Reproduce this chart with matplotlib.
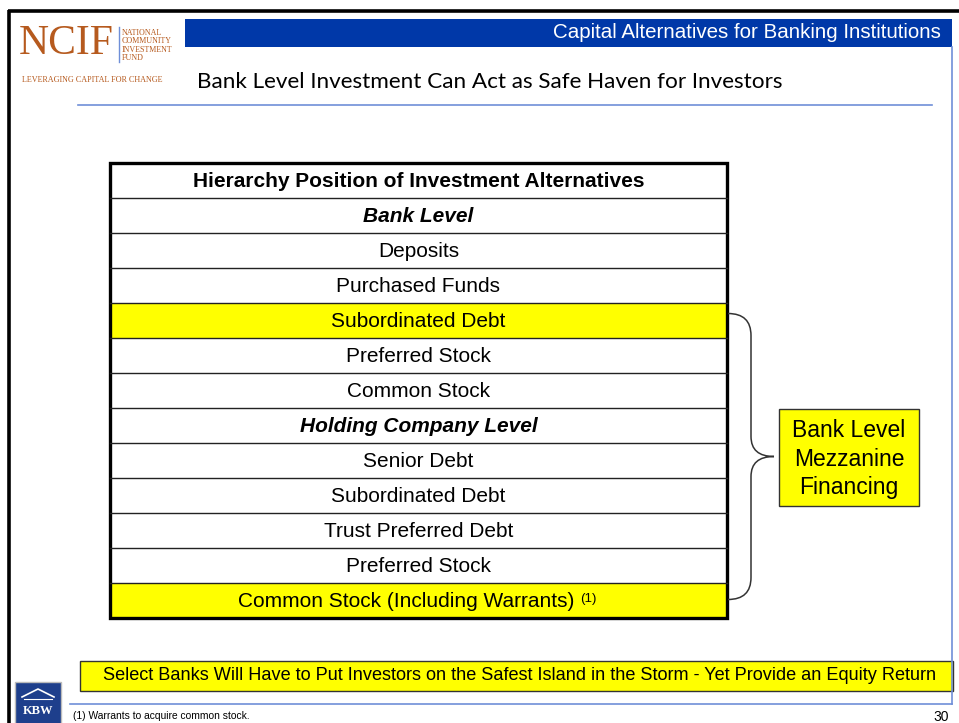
import matplotlib
matplotlib.use("Agg")
import matplotlib.pyplot as plt
from matplotlib.patches import Rectangle, PathPatch
from matplotlib.path import Path

# contenu de la diapositive
titre_bandeau = "Capital Alternatives for Banking Institutions"
sous_titre = "Bank Level Investment Can Act as Safe Haven for Investors"
entete = "Hierarchy Position of Investment Alternatives"
lignes = ["Bank Level", "Deposits", "Purchased Funds", "Subordinated Debt",
          "Preferred Stock", "Common Stock", "Holding Company Level",
          "Senior Debt", "Subordinated Debt", "Trust Preferred Debt",
          "Preferred Stock", "Common Stock (Including Warrants)"]
niveaux = [True, False, False, False, False, False, True,
           False, False, False, False, False]
surligne = [False, False, False, True, False, False, False,
            False, False, False, False, True]
note_ligne = ["", "", "", "", "", "", "", "", "", "", "", "(1)"]
encadre = "Bank Level\nMezzanine\nFinancing"
message = ("Select Banks Will Have to Put Investors on the Safest Island "
           "in the Storm - Yet Provide an Equity Return")
note_bas = "(1) Warrants to acquire common stock."
num_page = "30"

JAUNE = "#FFFF00"
BLEU = "#0038A8"
BLEU_CLAIR = "#6F8FD8"
ORANGE = "#B65A1E"

plt.rcParams['font.family'] = ['Liberation Sans', 'DejaVu Sans']

fig = plt.figure(figsize=(9.59, 7.23), dpi=100)
ax = fig.add_axes([0, 0, 1, 1])
ax.set_xlim(0, 959)
ax.set_ylim(723, 0)
ax.axis('off')

# cadre noir haut / gauche
ax.plot([8, 959], [11, 11], color='black', lw=2.6, solid_capstyle='butt')
ax.plot([9, 9], [10, 723], color='black', lw=2.6, solid_capstyle='butt')

# bandeau bleu
ax.add_patch(Rectangle((185, 19), 767, 28, facecolor=BLEU, edgecolor='none'))
ax.text(941, 32, titre_bandeau, color='white', fontsize=14.8, ha='right', va='center')

# lignes bleues claires
ax.plot([952, 952], [47, 704], color=BLEU_CLAIR, lw=1.2)
ax.plot([78, 932], [105, 105], color=BLEU_CLAIR, lw=1.2)
ax.plot([70, 952], [704, 704], color=BLEU_CLAIR, lw=1.2)

# logo NCIF
ax.text(19, 44, "NCIF", color=ORANGE, fontsize=30, family='Liberation Serif',
        ha='left', va='center')
ax.plot([119, 119], [27, 62], color=BLEU_CLAIR, lw=1)
for i, mot in enumerate(["NATIONAL", "COMMUNITY", "INVESTMENT", "FUND"]):
    ax.text(122, 33 + i * 8.3, mot, color=ORANGE, fontsize=5.8,
            family='Liberation Serif', ha='left', va='center')
ax.text(22, 80, "LEVERAGING CAPITAL FOR CHANGE", color=ORANGE, fontsize=5.9,
        family='Liberation Serif', ha='left', va='center')

# sous-titre
ax.text(197, 82, sous_titre, color='black', fontsize=16.2, family='Lato',
        ha='left', va='center')

# tableau
x0, x1 = 110, 727
y0, h = 163, 35
fs = 15
ax.add_patch(Rectangle((x0, y0), x1 - x0, h, facecolor='white', edgecolor='none'))
ax.text((x0 + x1) / 2, y0 + h / 2 + 1, entete, fontsize=fs, weight='bold',
        ha='center', va='center')
for i, lab in enumerate(lignes):
    y = y0 + (i + 1) * h
    fc = JAUNE if surligne[i] else 'white'
    ax.add_patch(Rectangle((x0, y), x1 - x0, h, facecolor=fc, edgecolor='none'))
    ax.plot([x0, x1], [y, y], color='#222222', lw=1)
    if niveaux[i]:
        ax.text((x0 + x1) / 2, y + h / 2 + 1, lab, fontsize=fs, weight='bold',
                style='italic', ha='center', va='center')
    elif note_ligne[i]:
        t = ax.text((x0 + x1) / 2 - 12, y + h / 2 + 1, lab, fontsize=fs,
                    ha='center', va='center')
        ax.annotate(note_ligne[i], xy=(1, 0.95), xycoords=t, xytext=(4, 0),
                    textcoords='offset points', fontsize=9.5, ha='left', va='top')
    else:
        ax.text((x0 + x1) / 2, y + h / 2 + 1, lab, fontsize=fs,
                ha='center', va='center')
yb = y0 + (len(lignes) + 1) * h
ax.add_patch(Rectangle((x0, y0), x1 - x0, yb - y0, facecolor='none',
                       edgecolor='black', lw=2.4))

# accolade
i_haut = surligne.index(True) + 1
i_bas = len(lignes)
ya = y0 + i_haut * h + h / 2 - 7
yz = y0 + i_bas * h + h / 2 - 1
ym = (ya + yz) / 2
xa, xv, xp = 728, 751, 774
verts = [(xa, ya), (xv, ya), (xv, ya + 22), (xv, ym - 20),
         (xv, ym), (xp, ym), (xv, ym), (xv, ym + 20),
         (xv, yz - 22), (xv, yz), (xa, yz)]
codes = [Path.MOVETO, Path.CURVE3, Path.CURVE3, Path.LINETO,
         Path.CURVE3, Path.CURVE3, Path.CURVE3, Path.CURVE3,
         Path.LINETO, Path.CURVE3, Path.CURVE3]
ax.add_patch(PathPatch(Path(verts, codes), facecolor='none',
                       edgecolor='#333333', lw=1.1))

# encadre jaune
ax.add_patch(Rectangle((779, 409), 140, 97, facecolor=JAUNE, edgecolor='#333333', lw=1))
ax.text(849, 459, encadre, fontsize=16.5, ha='center', va='center', linespacing=1.3)

# message du bas
ax.add_patch(Rectangle((80, 661), 873, 30, facecolor=JAUNE, edgecolor='#333333', lw=1))
ax.text(520, 676, message, fontsize=13.1, ha='center', va='center')

# logo KBW
ax.add_patch(Rectangle((15, 682), 46, 42, facecolor='#1E3F8C', edgecolor='#BBBBBB', lw=1))
ax.plot([22, 38, 54], [697, 689, 697], color='white', lw=1.2)
ax.plot([24, 52], [699, 699], color='white', lw=0.8)
ax.text(38, 711, "KBW", color='white', fontsize=9, weight='bold',
        family='Liberation Serif', ha='center', va='center')

# notes
ax.text(73, 716, note_bas, fontsize=7.4, ha='left', va='center')
ax.text(949, 717, num_page, fontsize=10, ha='right', va='center')

fig.savefig("out.png", dpi=100)
